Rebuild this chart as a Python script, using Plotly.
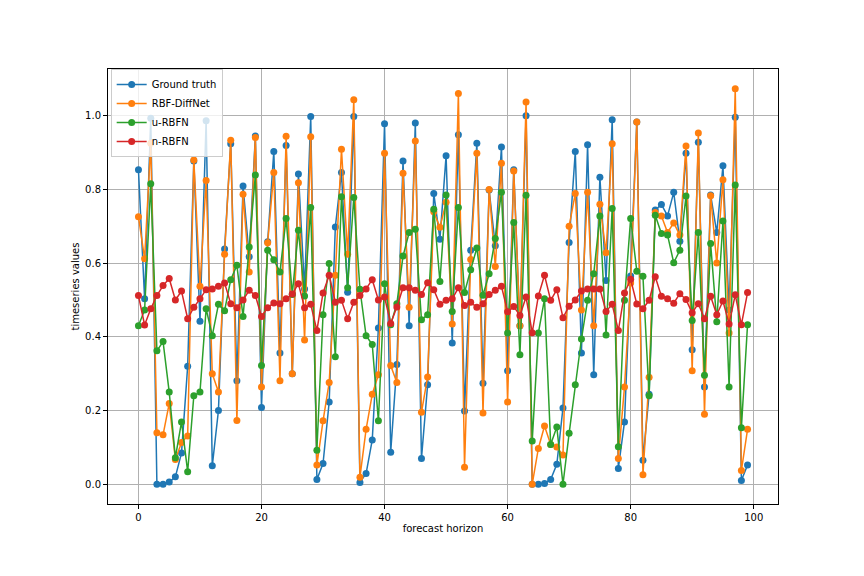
import plotly.graph_objects as go

horizon = list(range(100))

ground_truth = [0.853, 0.503, 0.993, 0.0, 0.0, 0.006, 0.02, 0.085, 0.32, 0.877,
                0.442, 0.986, 0.05, 0.2, 0.638, 0.924, 0.281, 0.809, 0.617, 0.945,
                0.208, 0.658, 0.903, 0.356, 0.919, 0.30, 0.842, 0.53, 0.998, 0.013,
                0.056, 0.223, 0.698, 0.846, 0.521, 0.998, 0.005, 0.029, 0.12, 0.424,
                0.978, 0.087, 0.325, 0.877, 0.43, 0.98, 0.07, 0.27, 0.789, 0.665,
                0.891, 0.383, 0.948, 0.199, 0.635, 0.925, 0.274, 0.798, 0.647, 0.915,
                0.308, 0.853, 0.43, 1.0, 0.0, 0.0, 0.002, 0.013, 0.054, 0.207,
                0.656, 0.903, 0.356, 0.921, 0.297, 0.833, 0.553, 0.989, 0.043, 0.169,
                0.565, 0.983, 0.065, 0.244, 0.744, 0.759, 0.728, 0.792, 0.659, 0.898,
                0.365, 0.928, 0.264, 0.785, 0.683, 0.864, 0.473, 0.996, 0.01, 0.052]

rbf_diffnet = [0.726, 0.612, 0.925, 0.14, 0.134, 0.219, 0.067, 0.113, 0.131, 0.88,
               0.537, 0.824, 0.3, 0.25, 0.624, 0.933, 0.173, 0.787, 0.576, 0.941,
               0.264, 0.655, 0.846, 0.281, 0.944, 0.3, 0.818, 0.391, 0.943, 0.052,
               0.172, 0.276, 0.567, 0.909, 0.624, 1.043, 0.019, 0.149, 0.244, 0.297,
               0.898, 0.322, 0.276, 0.844, 0.48, 0.931, 0.195, 0.291, 0.739, 0.697,
               0.765, 0.435, 1.06, 0.046, 0.61, 0.898, 0.193, 0.8, 0.591, 0.871,
               0.223, 0.85, 0.43, 1.037, 0.0, 0.097, 0.158, 0.108, 0.101, 0.079,
               0.7, 0.789, 0.473, 0.792, 0.43, 0.76, 0.628, 0.924, 0.07, 0.264,
               0.546, 0.983, 0.026, 0.29, 0.737, 0.728, 0.683, 0.709, 0.676, 0.918,
               0.308, 0.953, 0.19, 0.783, 0.6, 0.826, 0.41, 1.073, 0.037, 0.149]

u_rbfn = [0.43, 0.473, 0.815, 0.362, 0.387, 0.25, 0.072, 0.169, 0.034, 0.24,
          0.25, 0.476, 0.403, 0.488, 0.471, 0.555, 0.594, 0.455, 0.644, 0.839,
          0.322, 0.635, 0.609, 0.576, 0.721, 0.515, 0.689, 0.511, 0.751, 0.092,
          0.46, 0.599, 0.346, 0.78, 0.533, 0.778, 0.529, 0.403, 0.379, 0.172,
          0.544, 0.433, 0.49, 0.619, 0.683, 0.692, 0.446, 0.46, 0.746, 0.55,
          0.785, 0.469, 0.751, 0.52, 0.582, 0.641, 0.513, 0.571, 0.667, 0.792,
          0.41, 0.71, 0.351, 0.784, 0.117, 0.41, 0.503, 0.108, 0.155, 0.0,
          0.138, 0.27, 0.394, 0.499, 0.571, 0.728, 0.405, 0.748, 0.102, 0.499,
          0.721, 0.578, 0.564, 0.24, 0.73, 0.68, 0.676, 0.601, 0.635, 0.782,
          0.444, 0.683, 0.296, 0.653, 0.441, 0.714, 0.264, 0.812, 0.153, 0.433]

n_rbfn = [0.512, 0.432, 0.476, 0.512, 0.539, 0.558, 0.5, 0.524, 0.449, 0.48,
          0.503, 0.528, 0.53, 0.537, 0.546, 0.49, 0.479, 0.5, 0.526, 0.512,
          0.455, 0.479, 0.492, 0.49, 0.503, 0.516, 0.544, 0.479, 0.488, 0.417,
          0.519, 0.567, 0.494, 0.499, 0.449, 0.494, 0.512, 0.53, 0.555, 0.5,
          0.508, 0.436, 0.481, 0.533, 0.533, 0.526, 0.515, 0.547, 0.528, 0.488,
          0.499, 0.503, 0.533, 0.485, 0.494, 0.48, 0.49, 0.515, 0.526, 0.537,
          0.468, 0.482, 0.458, 0.508, 0.411, 0.511, 0.567, 0.499, 0.528, 0.452,
          0.483, 0.5, 0.524, 0.53, 0.53, 0.53, 0.469, 0.488, 0.417, 0.519,
          0.556, 0.489, 0.476, 0.499, 0.563, 0.51, 0.503, 0.491, 0.517, 0.501,
          0.465, 0.49, 0.449, 0.51, 0.46, 0.497, 0.435, 0.514, 0.433, 0.52]

series_names = ["Ground truth", "RBF-DiffNet", "u-RBFN", "n-RBFN"]
series_values = [ground_truth, rbf_diffnet, u_rbfn, n_rbfn]
colors = ["#1f77b4", "#ff7f0e", "#2ca02c", "#d62728"]

x_ticks = [0, 20, 40, 60, 80, 100]
y_ticks = [0.0, 0.2, 0.4, 0.6, 0.8, 1.0]

fig = go.Figure()
for name, vals, col in zip(series_names, series_values, colors):
    fig.add_trace(go.Scatter(
        x=horizon, y=vals, name=name, mode="lines+markers",
        line=dict(color=col, width=1.5),
        marker=dict(color=col, size=7),
    ))

all_vals = [v for s in series_values for v in s]
ymin, ymax = min(all_vals), max(all_vals)
ypad = 0.05 * (ymax - ymin)
xpad = 0.05 * (max(horizon) - min(horizon))

axis_common = dict(
    showgrid=True, gridcolor="#b0b0b0", gridwidth=0.8,
    showline=True, linecolor="black", linewidth=1, mirror=True,
    ticks="outside", ticklen=4, tickcolor="black", tickwidth=1,
    zeroline=False,
    tickfont=dict(family="DejaVu Sans", size=10, color="black"),
)

fig.update_layout(
    width=864, height=576,
    margin=dict(l=100, r=94, t=61, b=80),
    paper_bgcolor="white", plot_bgcolor="white",
    font=dict(family="DejaVu Sans", size=10, color="black"),
    showlegend=True,
    legend=dict(
        x=0.004, y=1.0, xanchor="left", yanchor="top",
        bgcolor="rgba(255,255,255,0.8)", bordercolor="#cccccc", borderwidth=1,
        font=dict(family="DejaVu Sans", size=10, color="black"),
        tracegroupgap=0, itemwidth=30,
    ),
    xaxis=dict(
        range=[min(horizon) - xpad, max(horizon) + xpad],
        tickvals=x_ticks, ticktext=[str(t) for t in x_ticks],
        title=dict(text="forecast horizon", standoff=2,
                   font=dict(family="DejaVu Sans", size=10, color="black")),
        **axis_common,
    ),
    yaxis=dict(
        range=[ymin - ypad, ymax + ypad],
        tickvals=y_ticks, ticktext=[f"{t:.1f}" for t in y_ticks],
        title=dict(text="timeseries values", standoff=3,
                   font=dict(family="DejaVu Sans", size=10, color="black")),
        **axis_common,
    ),
)

fig.write_html("out.html")
